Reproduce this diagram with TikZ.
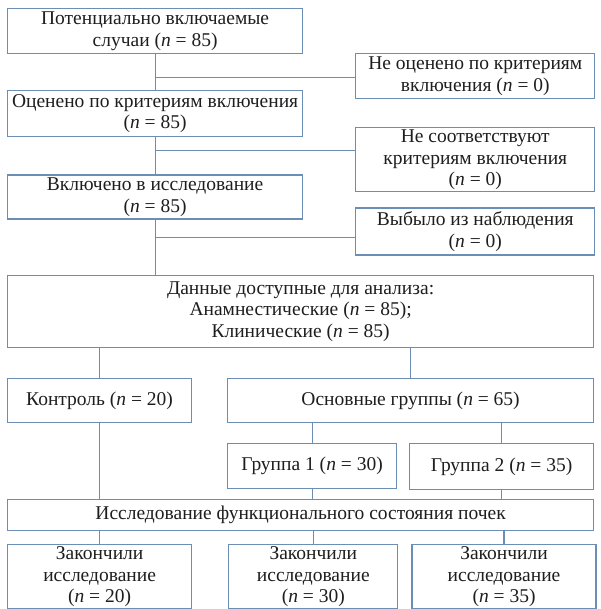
\documentclass[tikz,border=0pt]{standalone}
\usepackage{fontspec}
\setmainfont{Liberation Serif}
\usepackage{xcolor}
\usepackage{tikz}
\usetikzlibrary{positioning}
\definecolor{frame}{HTML}{6C8EB5}
\definecolor{ink}{HTML}{1E1E1E}
\newcommand{\ncount}[1]{(\textit{n} = #1)}

\begin{document}
\begin{tikzpicture}[
    x=1pt, y=1pt,
    box/.style={draw=frame, line width=1.2pt, align=center, fill=white, text=ink, inner sep=1pt, font=\fontsize{19.5}{21.5}\selectfont},
    mainbox/.style={box, minimum width=295pt},
    sidebox/.style={box, minimum width=239pt},
    link/.style={draw=frame, line width=1.2pt}
]
    \useasboundingbox (0,0) rectangle (600,-609);

    % Main column
    \node[mainbox, minimum height=45pt, anchor=north west] (pot) at (7,-8) {Потенциально включаемые\\случаи \ncount{85}};
    \node[mainbox, minimum height=46pt, below=36pt of pot] (ocen) {Оценено по критериям включения\\\ncount{85}};
    \node[mainbox, minimum height=44pt, below=37pt of ocen] (vkl) {Включено в исследование\\\ncount{85}};

    % Excluded
    \node[sidebox, minimum height=45pt, below right=45pt and 52pt of pot.north east] (neoc) {Не оценено по критериям\\включения \ncount{0}};
    \node[sidebox, minimum height=64pt, below right=37pt and 52pt of ocen.north east] (nesoot) {Не соответствуют\\критериям включения\\\ncount{0}};
    \node[sidebox, minimum height=47pt, below right=33pt and 52pt of vkl.north east] (vyb) {Выбыло из наблюдения\\\ncount{0}};

    % Analysis
    \node[box, minimum width=586pt, minimum height=72pt, below=55pt of vkl.south west, anchor=north west] (data) {Данные доступные для анализа:\\Анамнестические \ncount{85};\\Клинические \ncount{85}};
    \node[box, minimum width=184pt, minimum height=44pt, below=30pt of data.south west, anchor=north west] (ctrl) {Контроль \ncount{20}};
    \node[box, minimum width=366pt, minimum height=44pt, below=30pt of data.south east, anchor=north east] (main) {Основные группы \ncount{65}};
    \node[box, minimum width=169pt, minimum height=45pt, below=20pt of main.south west, anchor=north west] (grp1) {Группа 1 \ncount{30}};
    \node[box, minimum width=184pt, minimum height=46pt, below=20pt of main.south east, anchor=north east] (grp2) {Группа 2 \ncount{35}};
    \node[box, minimum width=586pt, minimum height=31pt, below=76pt of ctrl.south west, anchor=north west] (issl) {Исследование функционального состояния почек};

    % Completed
    \node[box, minimum width=184pt, minimum height=64pt, below=13pt of issl.south west, anchor=north west] (zak1) {Закончили\\исследование\\\ncount{20}};
    \node[box, minimum width=169pt, minimum height=64pt, right=36pt of zak1] (zak2) {Закончили\\исследование\\\ncount{30}};
    \node[box, minimum width=184pt, minimum height=64pt, right=13pt of zak2] (zak3) {Закончили\\исследование\\\ncount{35}};

    % Split points
    \coordinate[below=23pt of pot.south] (split1);
    \coordinate[below=13pt of ocen.south] (split2);
    \coordinate[below=18pt of vkl.south] (split3);

    % Connections
    \draw[link] (pot) -- (ocen);
    \draw[link] (ocen) -- (vkl);
    \draw[link] (vkl.south) -- (vkl.south |- data.north);
    \draw[link] (split1) -- (split1 -| neoc.west);
    \draw[link] (split2) -- (split2 -| nesoot.west);
    \draw[link] (split3) -- (split3 -| vyb.west);
    \draw[link] (ctrl.north) -- (ctrl.north |- data.south);
    \draw[link] (main.north) -- (main.north |- data.south);
    \draw[link] (grp1.north) -- (grp1.north |- main.south);
    \draw[link] (grp2.north) -- (grp2.north |- main.south);
    \draw[link] (ctrl.south) -- (ctrl.south |- issl.north);
    \draw[link] (grp1.south) -- (grp1.south |- issl.north);
    \draw[link] (grp2.south) -- (grp2.south |- issl.north);
    \draw[link] (zak1.north) -- (zak1.north |- issl.south);
    \draw[link] (zak2.north) -- (zak2.north |- issl.south);
    \draw[link] (zak3.north) -- (zak3.north |- issl.south);
\end{tikzpicture}
\end{document}
